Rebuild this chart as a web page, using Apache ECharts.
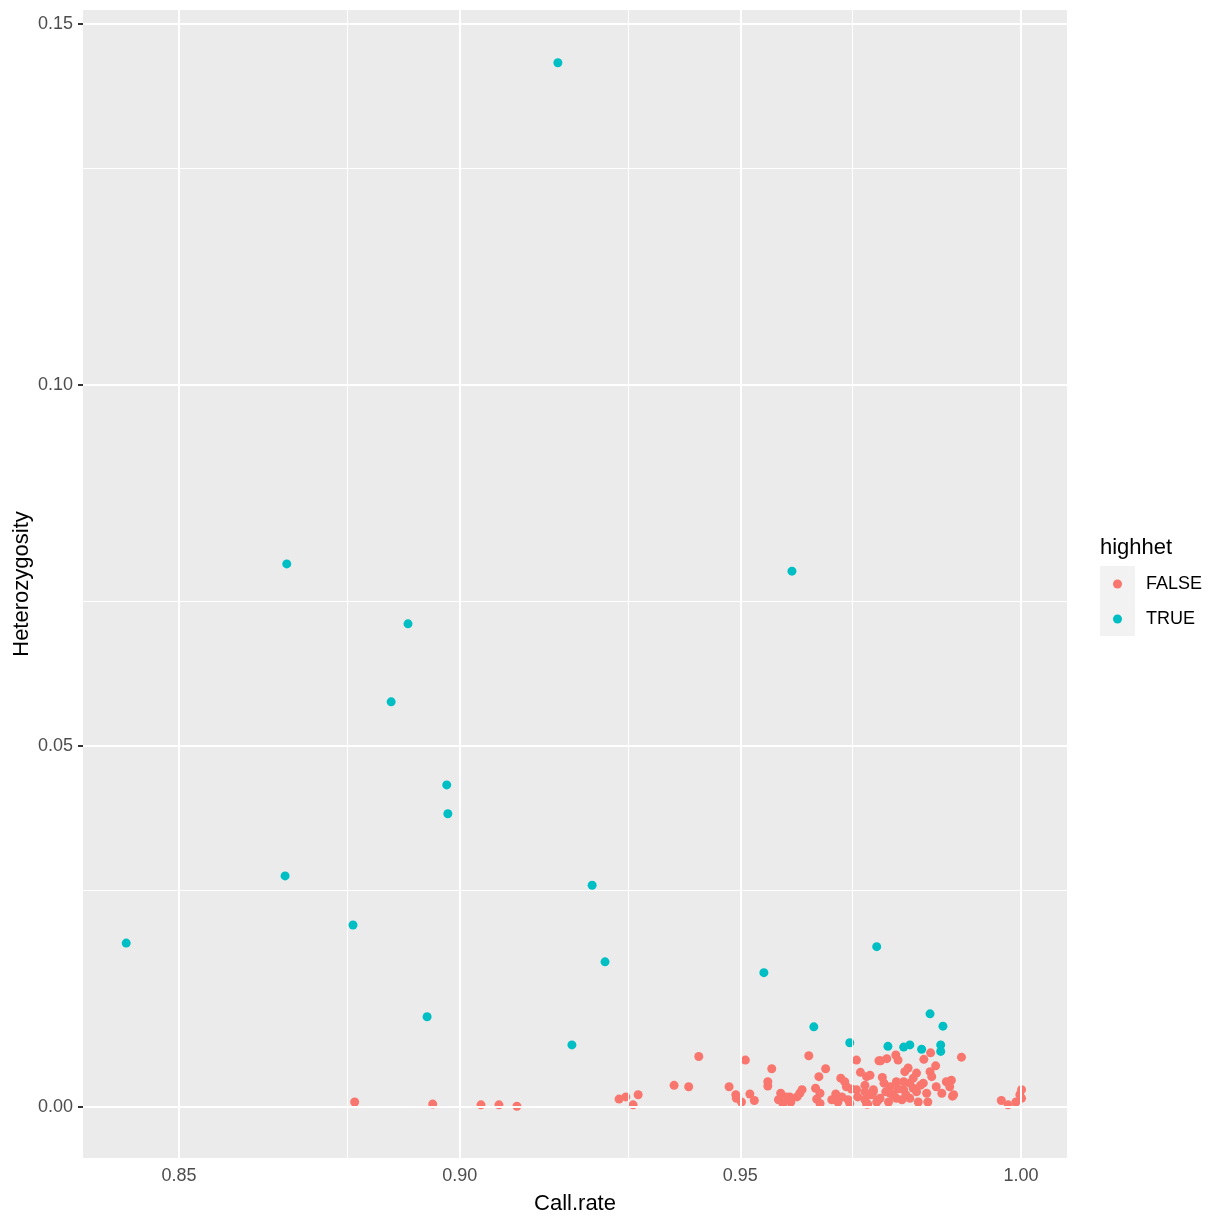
<!DOCTYPE html>
<html>
<head>
<meta charset="utf-8">
<script src="https://cdn.jsdelivr.net/npm/echarts@6/dist/echarts.min.js"></script>
<style>html,body{margin:0;padding:0;background:#fff;}#c{width:1224px;height:1224px;}</style>
</head>
<body>
<div id="c"></div>
<script>
// ---- data ----
const seriesNames = ['FALSE', 'TRUE'];

const trueCallRate = [0.9175, 0.8692, 0.9592, 0.8908, 0.8878, 0.8977, 0.8979, 0.8689, 0.9236, 0.8810,
  0.8406, 0.9743, 0.9259, 0.9542, 0.8942, 0.9200, 0.9631, 0.9695, 0.9838, 0.9861,
  0.9763, 0.9791, 0.9802, 0.9823, 0.9857, 0.9857];
const trueHet = [0.1446, 0.0752, 0.0742, 0.0669, 0.0561, 0.0446, 0.0406, 0.0320, 0.0307, 0.0252,
  0.0227, 0.0222, 0.0201, 0.0186, 0.0125, 0.0086, 0.0111, 0.0089, 0.0129, 0.0112,
  0.0084, 0.0083, 0.0086, 0.0080, 0.0086, 0.0077];

const falseCallRate = [0.8813, 0.8952, 0.9038, 0.9070, 0.9102,
  0.9284, 0.9296, 0.9309, 0.9318, 0.9382, 0.9408, 0.9426, 0.9480, 0.9492, 0.9493, 0.9502,
  0.9509, 0.9517, 0.9525, 0.9556, 0.9549, 0.9549, 0.9572, 0.9568, 0.9576, 0.9582,
  0.9622, 0.9707, 0.9747, 0.9652, 0.9714, 0.9640, 0.9725, 0.9679, 0.9686, 0.9689,
  0.9722, 0.9610, 0.9634, 0.9698, 0.9707, 0.9737, 0.9670, 0.9642, 0.9601, 0.9636,
  0.9663, 0.9692, 0.9722, 0.9734, 0.9746, 0.9590, 0.9642, 0.9695, 0.9725, 0.9588,
  0.9894, 0.9839, 0.9777, 0.9761, 0.9781, 0.9750, 0.9827, 0.9848, 0.9799, 0.9793,
  0.9838, 0.9814, 0.9841, 0.9753, 0.9876, 0.9867, 0.9731, 0.9778, 0.9802, 0.9826,
  0.9849, 0.9873, 0.9767, 0.9737, 0.9767, 0.9791, 0.9814, 0.9832, 0.9859, 0.9880,
  0.9749, 0.9778, 0.9802, 0.9817, 0.9834, 0.9743, 0.9764, 0.9788,
  0.9965, 0.9977, 0.9991, 0.9998, 1.0001, 1.0001, 0.9878, 0.9606,
  0.9772, 0.9795, 0.9808, 0.9759, 0.9821, 0.9781, 0.9731, 0.9756, 0.9791, 0.9808,
  0.9722, 0.9709, 0.9681, 0.9674, 0.9727];
const falseHet = [0.0007, 0.0004, 0.0003, 0.0003, 0.0001,
  0.0011, 0.0014, 0.0003, 0.0017, 0.0030, 0.0028, 0.0070, 0.0028, 0.0017, 0.0012, 0.0007,
  0.0065, 0.0018, 0.0009, 0.0053, 0.0035, 0.0029, 0.0019, 0.0010, 0.0005, 0.0014,
  0.0071, 0.0065, 0.0064, 0.0053, 0.0048, 0.0042, 0.0042, 0.0040, 0.0035, 0.0028,
  0.0030, 0.0024, 0.0026, 0.0025, 0.0024, 0.0021, 0.0018, 0.0019, 0.0014, 0.0011,
  0.0010, 0.0010, 0.0010, 0.0017, 0.0010, 0.0007, 0.0005, 0.0005, 0.0004, 0.0014,
  0.0069, 0.0075, 0.0072, 0.0067, 0.0065, 0.0064, 0.0066, 0.0057, 0.0054, 0.0049,
  0.0049, 0.0047, 0.0042, 0.0041, 0.0037, 0.0035, 0.0044, 0.0035, 0.0033, 0.0033,
  0.0028, 0.0028, 0.0028, 0.0024, 0.0019, 0.0024, 0.0021, 0.0019, 0.0019, 0.0017,
  0.0012, 0.0012, 0.0012, 0.0007, 0.0007, 0.0007, 0.0007, 0.0010,
  0.0009, 0.0003, 0.0007, 0.0017, 0.0024, 0.0012, 0.0015, 0.0019,
  0.0017, 0.0017, 0.0026, 0.0021, 0.0030, 0.0025, 0.0017, 0.0033, 0.0035, 0.0040,
  0.0021, 0.0014, 0.0014, 0.0007, 0.0004];

const xTicks = [0.85, 0.90, 0.95, 1.00];
const xMinor = [0.875, 0.925, 0.975];
const yTicks = [0.00, 0.05, 0.10, 0.15];
const yMinor = [0.025, 0.075, 0.125];

// ---- chart ----
const pairs = (xs, ys) => xs.map((x, i) => [x, ys[i]]);
const gridLineData = []
  .concat(xMinor.map(v => ({ xAxis: v, lineStyle: { width: 1 } })))
  .concat(yMinor.map(v => ({ yAxis: v, lineStyle: { width: 1 } })))
  .concat(xTicks.map(v => ({ xAxis: v, lineStyle: { width: 2 } })))
  .concat(yTicks.map(v => ({ yAxis: v, lineStyle: { width: 2 } })));

const FONT = 'Liberation Sans, Arial, sans-serif';
const chart = echarts.init(document.getElementById('c'), null, { renderer: 'canvas' });
const axisLabelStyle = { color: '#4D4D4D', fontSize: 18, fontFamily: FONT };
chart.setOption({
  animation: false,
  backgroundColor: '#FFFFFF',
  grid: { left: 83, right: 157, top: 10, bottom: 66, show: true, backgroundColor: '#EBEBEB', borderWidth: 0,
    containLabel: false, outerBoundsMode: 'none' },
  xAxis: {
    type: 'value', min: 0.8329, max: 1.0082,
    name: 'Call.rate', nameLocation: 'middle', nameGap: 35, nameMoveOverlap: false,
    nameTextStyle: { color: '#000', fontSize: 22, fontFamily: FONT },
    axisLine: { show: false },
    axisTick: { show: true, length: 5, customValues: xTicks, lineStyle: { color: '#333333', width: 2 } },
    axisLabel: { customValues: xTicks, margin: 9, formatter: v => v.toFixed(2), ...axisLabelStyle },
    splitLine: { show: false }
  },
  yAxis: {
    type: 'value', min: -0.00706, max: 0.1519,
    name: 'Heterozygosity', nameLocation: 'middle', nameGap: 50, nameRotate: 90, nameMoveOverlap: false,
    nameTextStyle: { color: '#000', fontSize: 22, fontFamily: FONT },
    axisLine: { show: false },
    axisTick: { show: true, length: 5, customValues: yTicks, lineStyle: { color: '#333333', width: 2 } },
    axisLabel: { customValues: yTicks, margin: 10, formatter: v => v.toFixed(2), ...axisLabelStyle },
    splitLine: { show: false }
  },
  legend: {
    data: seriesNames,
    orient: 'vertical', left: 1113, top: 574,
    itemWidth: 9, itemHeight: 9, itemGap: 15, padding: 0,
    icon: 'circle',
    textStyle: { color: '#000', fontSize: 18, lineHeight: 20, padding: [0, 0, 0, 19], fontFamily: FONT }
  },
  graphic: [
    { type: 'rect', left: 1100, top: 566, shape: { width: 35, height: 70 }, style: { fill: '#F2F2F2' }, z: -1 },
    { type: 'text', left: 1100, top: 537, style: { text: 'highhet', fill: '#000', fontSize: 22, fontFamily: FONT } }
  ],
  series: [
    {
      type: 'scatter', name: '_grid', data: [], z: 1, silent: true,
      markLine: { silent: true, symbol: ['none', 'none'], label: { show: false },
        lineStyle: { color: '#FFFFFF', type: 'solid' }, emphasis: { disabled: true }, animation: false,
        data: gridLineData }
    },
    { type: 'scatter', name: 'FALSE', data: pairs(falseCallRate, falseHet), symbolSize: 9, itemStyle: { color: '#F8766D', opacity: 1 }, z: 3 },
    { type: 'scatter', name: 'TRUE', data: pairs(trueCallRate, trueHet), symbolSize: 9, itemStyle: { color: '#00BFC4', opacity: 1 }, z: 4 }
  ]
});
</script>
</body>
</html>
